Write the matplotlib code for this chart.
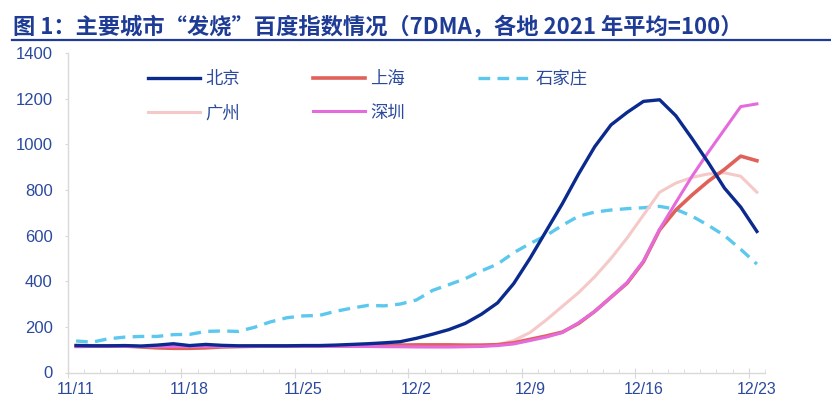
import numpy as np
import matplotlib
matplotlib.use("Agg")
import matplotlib.pyplot as plt

plt.rcParams['font.family'] = ['Liberation Sans', 'Noto Sans CJK SC', 'DejaVu Sans']

# daily index from 11/11 to 12/23
days = np.arange(43)
tick_pos = [0, 7, 14, 21, 28, 35, 42]
tick_labels = ["11/11", "11/18", "11/25", "12/2", "12/9", "12/16", "12/23"]

beijing = [118, 117, 117, 118, 116, 120, 126, 118, 123, 119, 117, 117, 117, 117, 118,
           118, 120, 123, 126, 130, 135, 150, 168, 188, 215, 255, 305, 390, 500, 620,
           740, 870, 990, 1085, 1140, 1188, 1195, 1125, 1025, 920, 808, 725, 618]
shanghai = [118, 117, 117, 116, 112, 108, 106, 106, 108, 112, 114, 115, 116, 116, 117,
            117, 117, 117, 118, 119, 120, 121, 121, 121, 120, 120, 122, 130, 145, 160,
            177, 215, 268, 330, 392, 485, 625, 712, 778, 838, 890, 948, 928]
shijiazhuang = [138, 133, 148, 155, 158, 158, 166, 167, 180, 182, 180, 198, 222, 240, 248,
                250, 268, 282, 294, 292, 300, 318, 360, 385, 411, 445, 475, 525, 565, 600,
                645, 685, 703, 712, 718, 722, 728, 715, 685, 645, 600, 540, 475]
guangzhou = [115, 114, 114, 114, 114, 113, 113, 113, 113, 113, 113, 114, 114, 114, 114,
             114, 114, 114, 114, 114, 113, 113, 112, 112, 113, 115, 122, 140, 175, 230,
             290, 350, 420, 500, 590, 690, 790, 830, 855, 870, 875, 860, 790]
shenzhen = [113, 114, 114, 114, 114, 114, 114, 114, 114, 114, 114, 114, 114, 114, 114,
            114, 114, 114, 114, 113, 113, 112, 112, 112, 113, 114, 118, 125, 140, 155,
            175, 218, 268, 330, 395, 488, 628, 745, 860, 965, 1065, 1165, 1177]

blue_txt = '#2B4A9E'

fig = plt.figure(figsize=(8.31, 3.98), dpi=100)
ax = fig.add_axes([68 / 831, 1 - 372.5 / 398, (765 - 68) / 831, (372.5 - 53) / 398])

ax.plot(days, beijing, color='#0B2A8E', lw=2.4, label='北京', zorder=5)
ax.plot(days, guangzhou, color='#F6C9C9', lw=2.2, label='广州', zorder=2)
ax.plot(days, shanghai, color='#E0605A', lw=2.6, label='上海', zorder=3)
ax.plot(days, shenzhen, color='#E56BDD', lw=2.2, label='深圳', zorder=4)
ax.plot(days, shijiazhuang, color='#5CC8EE', lw=2.4, ls=(0, (3.5, 2.2)), label='石家庄', zorder=1)

ax.set_xlim(-0.5, 42.5)
ax.set_ylim(0, 1400)
ax.set_yticks(range(0, 1401, 200))

for s in ['top', 'right']:
    ax.spines[s].set_visible(False)
for s in ['left', 'bottom']:
    ax.spines[s].set_color('#D9D9D9')
    ax.spines[s].set_linewidth(1.0)

ax.tick_params(axis='y', colors='#D9D9D9', labelcolor=blue_txt, labelsize=12,
               direction='out', length=2, pad=9)
ax.set_xticks(tick_pos, tick_labels)
ax.set_xticks(np.arange(-0.5, 43, 1), minor=True)
ax.tick_params(axis='x', which='major', length=0, labelcolor=blue_txt, labelsize=11.5, pad=7)
ax.tick_params(axis='x', which='minor', direction='in', length=3, color='#D9D9D9')

# longer boundary ticks every week
sec = ax.secondary_xaxis('bottom')
sec.set_xticks(np.arange(-0.5, 43, 7), [''] * 7)
sec.tick_params(direction='inout', length=7, color='#D9D9D9')
sec.spines['bottom'].set_visible(False)

leg = ax.legend(ncol=3, frameon=False, fontsize=12.5, handlelength=3.0, handletextpad=0.3,
                columnspacing=4.2, labelspacing=1.0, borderpad=0, borderaxespad=0,
                loc='upper left', bbox_to_anchor=(148 / 831, 1 - 71 / 398),
                bbox_transform=fig.transFigure)
for t in leg.get_texts():
    t.set_color(blue_txt)

title_color = '#1E3C96'
fig.text(13 / 831, 1 - 27 / 398, '图 1：主要城市“发烧”百度指数情况（7DMA，各地 2021 年平均=100）',
         fontsize=16, fontweight='bold', color=title_color, va='center', ha='left',
         family=['Noto Sans CJK SC', 'DejaVu Sans'])
fig.add_artist(plt.Line2D([12 / 831, 1.0], [1 - 39.5 / 398] * 2, color=title_color, lw=1.6,
                          transform=fig.transFigure))

fig.savefig('out.png', dpi=100)
